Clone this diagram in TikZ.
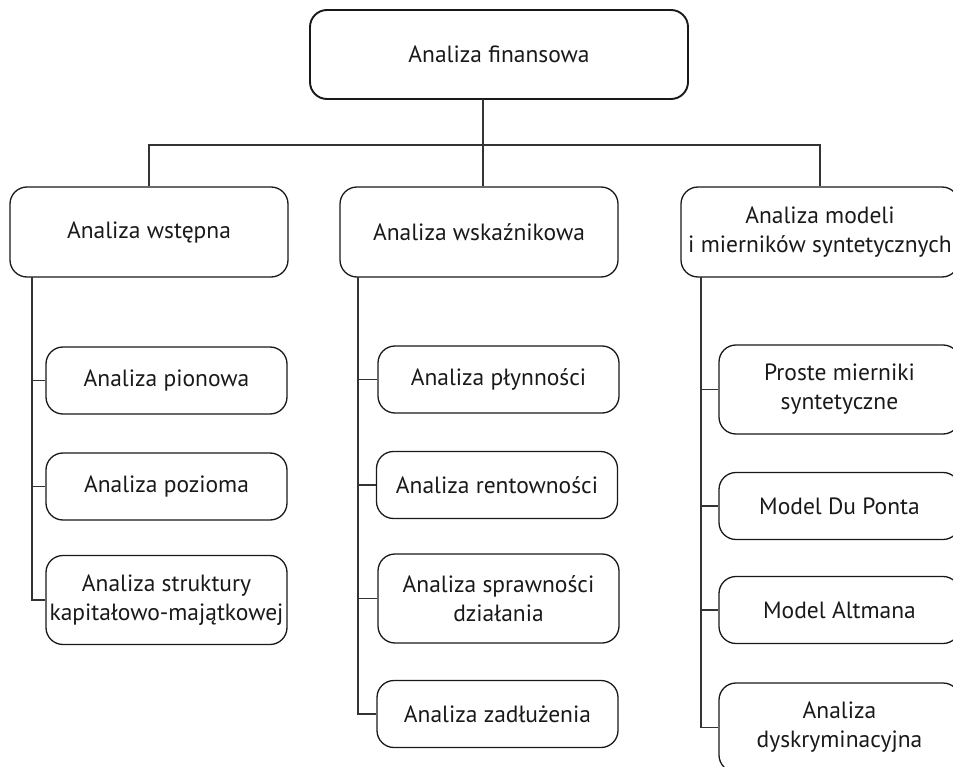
\documentclass[tikz,border=0pt]{standalone}
\usepackage{fontspec}
\setmainfont{PT Sans}
\usepackage{tikz}
\usetikzlibrary{positioning}
\definecolor{linegray}{rgb}{0.2,0.2,0.2}
\tikzset{
  box/.style={draw=black!90, line width=1.3pt, rounded corners=17pt,
    align=center, inner sep=0pt, font=\fontsize{23.5}{29}\selectfont,
    text=black!90},
  mainbox/.style={box, minimum width=278pt, minimum height=90pt},
  subbox/.style={box, minimum width=241pt, minimum height=67pt},
  tallbox/.style={subbox, minimum height=89pt},
  link/.style={draw=linegray, line width=1.4pt}
}

\begin{document}
\begin{tikzpicture}[x=1pt, y=-1pt]

                \useasboundingbox (0,0) rectangle (953,767);

                % top of the tree
                \node[box, line width=1.9pt, minimum width=378pt, minimum height=89pt]
                    (fin) at (499,54.5) {Analiza finansowa};

                \node[mainbox] (wst) at (149,232) {Analiza wstępna};
                \node[mainbox] (wsk) at (479,232) {Analiza wskaźnikowa};
                \node[mainbox] (mod) at (820,232)
                    {Analiza modeli\\i mierników syntetycznych};

                % left column
                \node[subbox] (pion) at (166.5,380.5) {Analiza pionowa};
                \node[subbox] (poz) at (166.5,486.5) {Analiza pozioma};
                \node[tallbox] (strukt) at (166.5,600)
                    {Analiza struktury\\kapitałowo-majątkowej};

                % middle column
                \node[subbox] (plyn) at (498.5,379.5) {Analiza płynności};
                \node[subbox] (rent) at (497,485) {Analiza rentowności};
                \node[tallbox] (spraw) at (498.5,598.5)
                    {Analiza sprawności\\działania};
                \node[subbox] (zadl) at (497.5,714) {Analiza zadłużenia};

                % right column
                \node[tallbox] (proste) at (839.5,389.5)
                    {Proste mierniki\\syntetyczne};
                \node[subbox] (dupont) at (839.5,506) {Model Du Ponta};
                \node[subbox] (altman) at (839.5,610) {Model Altmana};
                \node[tallbox] (dysk) at (839.5,727.5)
                    {Analiza\\dyskryminacyjna};

                % connectors
                \coordinate (trunk) at (483,99);
                \coordinate (bus) at (0,145);
                \draw[link] (trunk) -- (trunk |- wsk.north);
                \draw[link] (wst.north) -- (wst.north |- bus)
                    -- (mod.north |- bus) -- (mod.north);

                \coordinate (spl) at (32,277);
                \coordinate (spm) at (358,277);
                \coordinate (spr) at (701,277);

                \draw[link] (spl) |- (strukt.west);
                \draw[link] (spl |- pion.west) -- (pion.west);
                \draw[link] (spl |- poz.west) -- (poz.west);

                \draw[link] (spm) |- (zadl.west);
                \draw[link] (spm |- plyn.west) -- (plyn.west);
                \draw[link] (spm |- rent.west) -- (rent.west);
                \draw[link] (spm |- spraw.west) -- (spraw.west);

                \draw[link] (spr) |- (dysk.west);
                \draw[link] (spr |- proste.west) -- (proste.west);
                \draw[link] (spr |- dupont.west) -- (dupont.west);
                \draw[link] (spr |- altman.west) -- (altman.west);

\end{tikzpicture}
\end{document}
